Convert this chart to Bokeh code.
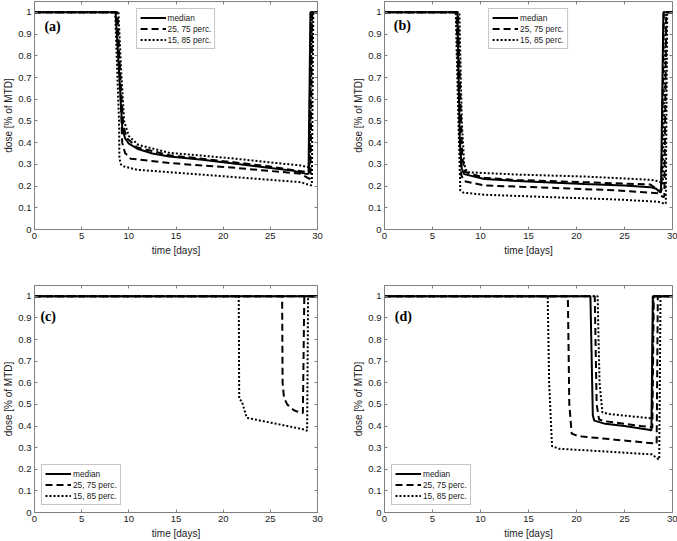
from bokeh.plotting import figure
from bokeh.models import Range1d, FixedTicker, LinearAxis, Legend, LegendItem, Label
from bokeh.layouts import gridplot
from bokeh.embed import file_html
from bokeh.resources import INLINE

# ---------------- data ----------------
x_ticks = [0, 5, 10, 15, 20, 25, 30]
y_ticks = [0, 0.1, 0.2, 0.3, 0.4, 0.5, 0.6, 0.7, 0.8, 0.9, 1]
y_tick_labels = ["0", "0.1", "0.2", "0.3", "0.4", "0.5", "0.6", "0.7", "0.8", "0.9", "1"]
x_label = "time [days]"
y_label = "dose [% of MTD]"
legend_labels = ["median", "25, 75 perc.", "15, 85 perc."]
panel_names = ["(a)", "(b)", "(c)", "(d)"]

# panel (a)
a_med_t = [0, 8.6, 9.0, 9.3, 9.6, 10.0, 10.9, 12.5, 14.3, 17.8, 21.3, 24.8, 27.5, 28.9, 29.05, 29.25, 30]
a_med_v = [1, 1, 0.7, 0.47, 0.42, 0.395, 0.372, 0.35, 0.336, 0.321, 0.303, 0.284, 0.27, 0.255, 0.258, 1, 1]
a_p75_t = [0, 8.7, 9.1, 9.4, 9.8, 10.9, 14.3, 21.3, 24.8, 28.9, 29.1, 29.3, 30]
a_p75_v = [1, 1, 0.7, 0.48, 0.42, 0.378, 0.342, 0.309, 0.291, 0.264, 0.266, 1, 1]
a_p25_t = [0, 8.8, 9.15, 9.3, 9.6, 10.2, 14.3, 21.3, 28.2, 29.1, 29.25, 29.45, 30]
a_p25_v = [1, 1, 0.6, 0.4, 0.352, 0.326, 0.306, 0.284, 0.257, 0.234, 0.236, 1, 1]
a_p85_t = [0, 8.9, 9.2, 9.5, 10.0, 11.0, 14.3, 17.8, 21.3, 24.8, 28.2, 28.9, 29.15, 29.4, 30]
a_p85_v = [1, 1, 0.72, 0.5, 0.43, 0.39, 0.353, 0.34, 0.326, 0.31, 0.295, 0.288, 0.29, 1, 1]
a_p15_t = [0, 8.55, 8.96, 9.0, 9.15, 9.5, 10.9, 14.3, 21.3, 28.2, 29.3, 29.4, 29.55, 30]
a_p15_v = [1, 1, 0.5, 0.33, 0.3, 0.29, 0.275, 0.264, 0.241, 0.218, 0.203, 0.206, 1, 1]

# panel (b)
b_med_t = [0, 7.6, 7.85, 8.05, 8.3, 10.4, 13.8, 20.8, 25.0, 27.7, 28.3, 28.6, 28.8, 29.05, 30]
b_med_v = [1, 1, 0.4, 0.28, 0.255, 0.233, 0.223, 0.21, 0.203, 0.195, 0.188, 0.175, 0.17, 1, 1]
b_p75_t = [0, 7.65, 7.9, 8.1, 8.4, 10.4, 13.8, 20.8, 27.7, 28.6, 28.85, 29.1, 30]
b_p75_v = [1, 1, 0.6, 0.33, 0.265, 0.238, 0.228, 0.218, 0.207, 0.18, 0.178, 1, 1]
b_p25_t = [0, 7.5, 7.75, 8.0, 8.3, 10.4, 17.3, 24.3, 28.5, 29.0, 29.15, 29.35, 30]
b_p25_v = [1, 1, 0.6, 0.25, 0.223, 0.203, 0.192, 0.18, 0.167, 0.15, 0.152, 1, 1]
b_p85_t = [0, 7.8, 8.05, 8.3, 8.6, 13.8, 20.8, 27.7, 28.6, 29.0, 29.3, 30]
b_p85_v = [1, 1, 0.5, 0.3, 0.264, 0.253, 0.244, 0.229, 0.222, 0.21, 1, 1]
b_p15_t = [0, 7.42, 7.7, 7.9, 8.2, 10.4, 17.3, 24.3, 28.5, 29.2, 29.3, 29.45, 30]
b_p15_v = [1, 1, 0.5, 0.18, 0.17, 0.16, 0.149, 0.138, 0.128, 0.118, 0.12, 1, 1]

# panel (c)
c_med_t = [0, 30]
c_med_v = [1, 1]
c_p75_t = [0, 30]
c_p75_v = [1, 1]
c_p25_t = [0, 26.25, 26.3, 26.45, 26.8, 27.5, 28.2, 28.45, 28.6, 30]
c_p25_v = [1, 1, 0.6, 0.53, 0.499, 0.473, 0.461, 0.46, 1, 1]
c_p85_t = [0, 30]
c_p85_v = [1, 1]
c_p15_t = [0, 21.65, 21.7, 21.98, 22.5, 28.6, 28.9, 29.0, 30]
c_p15_v = [1, 1, 0.525, 0.514, 0.438, 0.384, 0.378, 1, 1]

# panel (d)
d_med_t = [0, 21.45, 21.7, 21.85, 23.0, 25.0, 27.7, 27.8, 27.95, 30]
d_med_v = [1, 1, 0.45, 0.425, 0.41, 0.4, 0.382, 0.378, 1, 1]
d_p75_t = [0, 21.9, 22.1, 22.35, 23.0, 26.7, 27.7, 27.9, 28.05, 30]
d_p75_v = [1, 1, 0.5, 0.43, 0.422, 0.4, 0.395, 0.392, 1, 1]
d_p25_t = [0, 19.1, 19.25, 19.5, 20.2, 24.0, 28.2, 28.35, 28.47, 30]
d_p25_v = [1, 1, 0.5, 0.365, 0.353, 0.337, 0.319, 0.318, 1, 1]
d_p85_t = [0, 22.2, 22.4, 22.7, 23.5, 27.7, 27.85, 28.0, 30]
d_p85_v = [1, 1, 0.6, 0.463, 0.455, 0.436, 0.433, 1, 1]
d_p15_t = [0, 17.0, 17.15, 17.45, 18.15, 22.0, 27.85, 28.55, 28.62, 28.75, 30]
d_p15_v = [1, 1, 0.6, 0.307, 0.295, 0.285, 0.269, 0.246, 0.246, 1, 1]

# ---------------- styling ----------------
FONT = "Liberation Sans"
FRAME = "#808080"
TXT = "#1a1a1a"


def make_panel(name, series, legend_loc, width, height, borders, tag_xy):
    p = figure(width=width, height=height, output_backend="svg", toolbar_location=None,
               x_range=Range1d(0, 30), y_range=Range1d(0, 1.05),
               min_border_left=borders[0], min_border_right=borders[1],
               min_border_top=borders[2], min_border_bottom=borders[3])
    p.xgrid.visible = False
    p.ygrid.visible = False
    p.outline_line_color = FRAME
    p.outline_line_width = 1
    p.background_fill_color = "white"
    p.border_fill_color = "white"

    xt = FixedTicker(ticks=x_ticks)
    yt = FixedTicker(ticks=y_ticks)
    p.xaxis.ticker = xt
    p.yaxis.ticker = yt
    p.yaxis.major_label_overrides = dict(zip(y_ticks, y_tick_labels))
    p.xaxis.axis_label = x_label
    p.yaxis.axis_label = y_label
    for ax in (p.xaxis[0], p.yaxis[0]):
        ax.axis_line_color = FRAME
        ax.major_tick_line_color = FRAME
        ax.major_tick_in = 3
        ax.major_tick_out = 0
        ax.minor_tick_line_color = None
        ax.major_label_text_font = FONT
        ax.major_label_text_font_size = "9.5px"
        ax.major_label_text_color = TXT
        ax.major_label_standoff = 3
        ax.axis_label_text_font = FONT
        ax.axis_label_text_font_size = "10px"
        ax.axis_label_text_font_style = "normal"
        ax.axis_label_text_color = TXT
    p.xaxis.axis_label_standoff = 3
    p.yaxis.axis_label_standoff = 1

    # tick marks only on the top and right edges of the box
    for loc, tk in (("above", xt), ("right", yt)):
        ax = LinearAxis(ticker=tk)
        ax.axis_line_color = None
        ax.major_tick_line_color = FRAME
        ax.major_tick_in = 3
        ax.major_tick_out = 0
        ax.minor_tick_line_color = None
        ax.major_label_text_font_size = "1px"
        ax.major_label_text_color = None
        ax.major_label_standoff = 0
        p.add_layout(ax, loc)

    styles = {
        "med": dict(line_dash="solid"),
        "p75": dict(line_dash="7 4"),
        "p25": dict(line_dash="7 4"),
        "p85": dict(line_dash="2 2"),
        "p15": dict(line_dash="2 2"),
    }
    rends = {}
    for key in ("p85", "p15", "p75", "p25", "med"):
        t, v = series[key]
        rends[key] = p.line(t, v, line_color="black", line_width=2, **styles[key])

    legend = Legend(items=[LegendItem(label=legend_labels[0], renderers=[rends["med"]]),
                           LegendItem(label=legend_labels[1], renderers=[rends["p25"]]),
                           LegendItem(label=legend_labels[2], renderers=[rends["p15"]])],
                    location=legend_loc)
    legend.label_text_font = FONT
    legend.label_text_font_size = "8.3px"
    legend.label_text_color = TXT
    legend.label_height = 11
    legend.label_standoff = 2
    legend.glyph_width = 26
    legend.glyph_height = 11
    legend.spacing = 0
    legend.padding = 3
    legend.margin = 7
    legend.border_line_color = "#8c8c8c"
    legend.border_line_width = 1
    legend.background_fill_color = "white"
    legend.background_fill_alpha = 1
    p.add_layout(legend, "center")

    p.add_layout(Label(x=tag_xy[0], y=tag_xy[1], text=name, text_font="Liberation Serif",
                       text_font_style="bold", text_font_size="14px", text_color="black",
                       text_baseline="middle", text_align="left"))
    return p


pa = make_panel(panel_names[0],
                {"med": (a_med_t, a_med_v), "p75": (a_p75_t, a_p75_v), "p25": (a_p25_t, a_p25_v),
                 "p85": (a_p85_t, a_p85_v), "p15": (a_p15_t, a_p15_v)},
                "top_center", 338, 270, (10, 21, 1, 41), (1.05, 0.937))
pb = make_panel(panel_names[1],
                {"med": (b_med_t, b_med_v), "p75": (b_p75_t, b_p75_v), "p25": (b_p25_t, b_p25_v),
                 "p85": (b_p85_t, b_p85_v), "p15": (b_p15_t, b_p15_v)},
                "top_center", 339, 270, (46, 5, 1, 41), (0.97, 0.94))
pc = make_panel(panel_names[2],
                {"med": (c_med_t, c_med_v), "p75": (c_p75_t, c_p75_v), "p25": (c_p25_t, c_p25_v),
                 "p85": (c_p85_t, c_p85_v), "p15": (c_p15_t, c_p15_v)},
                "bottom_left", 338, 271, (10, 21, 15, 28), (0.63, 0.906))
pd_ = make_panel(panel_names[3],
                 {"med": (d_med_t, d_med_v), "p75": (d_p75_t, d_p75_v), "p25": (d_p25_t, d_p25_v),
                  "p85": (d_p85_t, d_p85_v), "p15": (d_p15_t, d_p15_v)},
                 "bottom_left", 339, 271, (46, 5, 15, 28), (1.07, 0.906))

grid = gridplot([[pa, pb], [pc, pd_]], toolbar_location=None)
open("out.html", "w").write(file_html(grid, INLINE))
